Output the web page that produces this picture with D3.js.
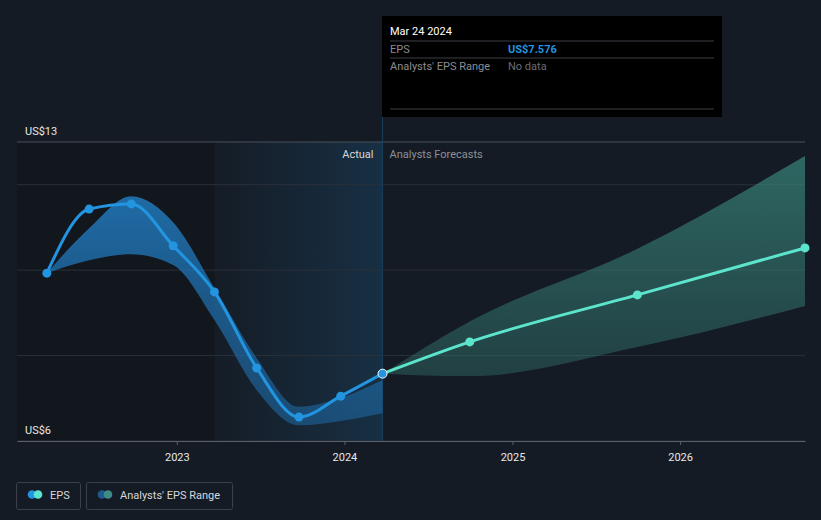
<!DOCTYPE html>
<html><head><meta charset="utf-8">
<script src="https://cdn.jsdelivr.net/npm/d3@7"></script>
<style>
html,body{margin:0;padding:0;background:#151b24;}
svg{display:block;font-family:Roboto,"Noto Sans",sans-serif;}
</style></head>
<body><svg id="c" width="821" height="520"></svg>
<script>
// ---- data ----
const actualDates = ["2022-03-24","2022-06-24","2022-09-24","2022-12-24","2023-03-24","2023-06-24","2023-09-24","2023-12-24","2024-03-24"];
const actualEPS   = [9.93, 11.43, 11.55, 10.57, 9.49, 7.71, 6.56, 7.05, 7.576];
const pastRangeHigh = [9.93, 10.98, 11.73, 11.12, 9.58, 7.94, 6.80, 7.01, 7.43];
const pastRangeLow  = [9.93, 10.23, 10.37, 10.12, 8.83, 7.19, 6.37, 6.47, 6.65];
const forecastDates = ["2024-03-24","2024-09-30","2025-09-30","2026-09-30"];
const forecastEPS   = [7.576, 8.32, 9.42, 10.52];
const forecastHigh  = [7.576, 8.80, 10.50, 12.67];
const forecastLow   = [7.576, 7.52, 8.20, 9.16];
const yTicks = [6, 8, 10, 12, 13];
const yLabels = [{v:13, t:"US$13"}, {v:6, t:"US$6"}];
const xTickYears = [2023, 2024, 2025, 2026];
const tooltipDate = "Mar 24 2024";
const tooltipRows = [{k:"EPS", v:"US$7.576"}, {k:"Analysts' EPS Range", v:"No data"}];
const legendItems = ["EPS", "Analysts' EPS Range"];

const parse = d3.timeParse("%Y-%m-%d");
const svg = d3.select("#c");
const x = d3.scaleTime().domain([parse("2022-01-18"), parse("2026-09-30")]).range([17, 805]);
const y = d3.scaleLinear().domain([6, 13]).range([441, 142]);

const defs = svg.append("defs");
const g1 = defs.append("linearGradient").attr("id","hl").attr("x1",0).attr("x2",1).attr("y1",0).attr("y2",0);
g1.append("stop").attr("offset","0%").attr("stop-color","#2394df").attr("stop-opacity",0.01);
g1.append("stop").attr("offset","100%").attr("stop-color","#2394df").attr("stop-opacity",0.17);
const g2 = defs.append("linearGradient").attr("id","pb").attr("x1",0).attr("x2",0).attr("y1",0).attr("y2",1);
g2.append("stop").attr("offset","0%").attr("stop-color","#2383cc").attr("stop-opacity",0.78);
g2.append("stop").attr("offset","100%").attr("stop-color","#1d6aa6").attr("stop-opacity",0.55);
const g3 = defs.append("linearGradient").attr("id","fb").attr("gradientUnits","userSpaceOnUse")
  .attr("x1",0).attr("x2",0).attr("y1",y(13)).attr("y2",y(7));
g3.append("stop").attr("offset","0%").attr("stop-color","#3a8a80").attr("stop-opacity",0.7);
g3.append("stop").attr("offset","100%").attr("stop-color","#3a8a80").attr("stop-opacity",0.3);

const x0 = x.range()[0], x1 = x.range()[1];
const hlStart = parse("2023-03-24"), hlEnd = parse("2024-03-24");
svg.append("rect").attr("x", x0).attr("y", y(13)).attr("width", x(hlStart)-x0).attr("height", y(6)-y(13)).attr("fill","#12161d");
svg.append("rect").attr("x", x(hlStart)).attr("y", y(13)).attr("width", x(hlEnd)-x(hlStart)).attr("height", y(6)-y(13)).attr("fill","url(#hl)");

svg.append("g").selectAll("line").data(yTicks).join("line")
  .attr("x1", x0).attr("x2", x1).attr("y1", d=>y(d)).attr("y2", d=>y(d))
  .attr("stroke", d => d===13 ? "#4a505a" : "#2a303a").attr("stroke-width",1);

svg.append("line").attr("x1", x(hlEnd)).attr("x2", x(hlEnd)).attr("y1", 117).attr("y2", y(6))
  .attr("stroke","#1a3f5e").attr("stroke-width",1);

const pastData = actualDates.map((d,i)=>({d:parse(d), v:actualEPS[i], hi:pastRangeHigh[i], lo:pastRangeLow[i]}));
const foreData = forecastDates.map((d,i)=>({d:parse(d), v:forecastEPS[i], hi:forecastHigh[i], lo:forecastLow[i]}));
const area = d3.area().x(d=>x(d.d)).y0(d=>y(d.lo)).y1(d=>y(d.hi)).curve(d3.curveMonotoneX);
svg.append("path").datum(pastData).attr("d", area).attr("fill","url(#pb)");
svg.append("path").datum(foreData).attr("d", area).attr("fill","url(#fb)");

const line = d3.line().x(d=>x(d.d)).y(d=>y(d.v)).curve(d3.curveMonotoneX);
svg.append("path").datum(foreData).attr("d", line).attr("fill","none").attr("stroke","#5ce5cc").attr("stroke-width",3);
svg.append("path").datum(pastData).attr("d", line).attr("fill","none").attr("stroke","#2394df").attr("stroke-width",3);
svg.append("g").selectAll("circle").data(foreData.slice(1)).join("circle")
  .attr("cx", d=>x(d.d)).attr("cy", d=>y(d.v)).attr("r",4.5).attr("fill","#5ce5cc");
svg.append("g").selectAll("circle").data(pastData.slice(0,-1)).join("circle")
  .attr("cx", d=>x(d.d)).attr("cy", d=>y(d.v)).attr("r",4.5).attr("fill","#2394df");
const last = pastData[pastData.length-1];
svg.append("circle").attr("cx", x(last.d)).attr("cy", y(last.v)).attr("r",4.5).attr("fill","#2394df").attr("stroke","#ffffff").attr("stroke-width",1);

svg.append("text").attr("x", x(hlEnd)-9).attr("y", 158).attr("text-anchor","end").attr("fill","#d6d8db").attr("font-size",11).text("Actual");
svg.append("text").attr("x", x(hlEnd)+7).attr("y", 158).attr("fill","#8b9097").attr("font-size",11).text("Analysts Forecasts");

svg.append("g").selectAll("text").data(yLabels).join("text")
  .attr("x", 25).attr("y", d=>y(d.v)-7).attr("fill","#e8e8e8").attr("font-size",11).text(d=>d.t);

const xAxis = d3.axisBottom(x).tickValues(xTickYears.map(yr=>new Date(yr,0,1))).tickFormat(d3.timeFormat("%Y")).tickSize(4).tickSizeOuter(0);
const ax = svg.append("g").attr("transform",`translate(0,${y(6)})`).call(xAxis);
ax.select(".domain").attr("stroke","#5a6069").attr("stroke-width",1.2);
ax.selectAll(".tick line").attr("stroke","#5a6069");
ax.selectAll(".tick text").attr("fill","#e8e8e8").attr("font-size",11).attr("font-family","Roboto,sans-serif").attr("dy","1.2em");

const tt = svg.append("g");
tt.append("rect").attr("x",382).attr("y",16).attr("width",340).attr("height",101).attr("fill","#000");
tt.append("text").attr("x",390).attr("y",35).attr("fill","#ffffff").attr("font-size",11).text(tooltipDate);
[41,58,109].forEach(yy => tt.append("line").attr("x1",390).attr("x2",714).attr("y1",yy).attr("y2",yy).attr("stroke","#3c3f44"));
tooltipRows.forEach((r,i)=>{
  tt.append("text").attr("x",390).attr("y",53+i*17).attr("fill","#8a8d92").attr("font-size",11).text(r.k);
  tt.append("text").attr("x",508).attr("y",53+i*17).attr("fill", i===0 ? "#2394df" : "#6a6d72")
    .attr("font-weight", i===0 ? "bold" : "normal").attr("font-size",11).text(r.v);
});

const lg = svg.append("g");
const boxes = [{x:17, w:64, c1:"#2394df", c2:"#5ce5cc"}, {x:87, w:146, c1:"#1f5c8c", c2:"#3f8c86"}];
boxes.forEach((b,i)=>{
  lg.append("rect").attr("x",b.x-0.5).attr("y",482.5).attr("width",b.w).attr("height",27).attr("rx",2)
    .attr("fill","none").attr("stroke","#3a404a");
  lg.append("circle").attr("cx",b.x+15).attr("cy",494.5).attr("r",4.3).attr("fill",b.c1);
  lg.append("circle").attr("cx",b.x+21).attr("cy",494.5).attr("r",4.3).attr("fill",b.c2);
  lg.append("text").attr("x",b.x+33).attr("y",498.5).attr("fill","#d6d8db").attr("font-size",11).text(legendItems[i]);
});
</script></body></html>
